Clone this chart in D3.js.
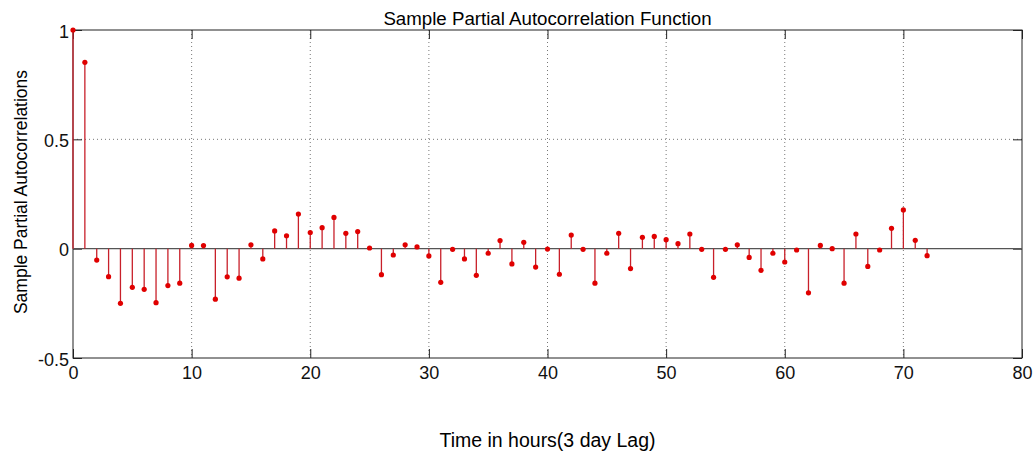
<!DOCTYPE html>
<html>
<head>
<meta charset="utf-8">
<script src="https://cdn.jsdelivr.net/npm/d3@7"></script>
<style>
  body { margin: 0; background: #fff; }
  svg { display: block; font-family: "Liberation Sans", Arial, sans-serif; }
</style>
</head>
<body>
<div id="chart"></div>
<script>
// lags 0..72
const lags = d3.range(0, 73);
const pacf = [
  1.0, 0.852, -0.052, -0.128, -0.250, -0.177, -0.186, -0.247, -0.169, -0.158,
  0.015, 0.014, -0.231, -0.129, -0.135, 0.018, -0.047, 0.081, 0.059, 0.158,
  0.074, 0.096, 0.143, 0.070, 0.078, 0.003, -0.119, -0.029, 0.018, 0.008,
  -0.033, -0.154, -0.003, -0.047, -0.122, -0.021, 0.037, -0.070, 0.029, -0.084,
  -0.002, -0.117, 0.062, -0.003, -0.158, -0.021, 0.070, -0.091, 0.052, 0.056,
  0.041, 0.023, 0.067, -0.003, -0.131, -0.003, 0.018, -0.040, -0.099, -0.021,
  -0.061, -0.006, -0.202, 0.015, 0.000, -0.158, 0.067, -0.081, -0.006, 0.093,
  0.177, 0.038, -0.032
];
const xTicks = [0, 10, 20, 30, 40, 50, 60, 70, 80];
const yTicks = [-0.5, 0, 0.5, 1];
const yTickLabels = ["-0.5", "0", "0.5", "1"];

const width = 1035, height = 454;
const margin = { top: 30, right: 13, bottom: 96, left: 73 };

const svg = d3.select("#chart")
  .append("svg")
  .attr("width", width)
  .attr("height", height);

const x = d3.scaleLinear().domain([0, 80]).range([margin.left, width - margin.right]);
const y = d3.scaleLinear().domain([-0.5, 1]).range([height - margin.bottom, margin.top]);

// grid
svg.append("g")
  .selectAll("line")
  .data(xTicks.slice(1, -1))
  .join("line")
  .attr("x1", d => x(d)).attr("x2", d => x(d))
  .attr("y1", y(1)).attr("y2", y(-0.5))
  .attr("stroke", "#777")
  .attr("stroke-width", 1)
  .attr("stroke-dasharray", "1,3");

svg.append("g")
  .selectAll("line")
  .data([0.5])
  .join("line")
  .attr("x1", x(0)).attr("x2", x(80))
  .attr("y1", d => y(d)).attr("y2", d => y(d))
  .attr("stroke", "#777")
  .attr("stroke-width", 1)
  .attr("stroke-dasharray", "1,3");

// axes (ticks inside, MATLAB style)
const tickLen = 9;
svg.append("g")
  .attr("transform", `translate(0,${y(-0.5)})`)
  .call(d3.axisBottom(x).tickValues(xTicks).tickSize(-tickLen).tickPadding(8).tickFormat(d3.format("d")))
  .call(g => g.select(".domain").remove());

svg.append("g")
  .attr("transform", `translate(0,${y(1)})`)
  .call(d3.axisTop(x).tickValues(xTicks).tickSize(-tickLen).tickFormat(""))
  .call(g => g.select(".domain").remove());

svg.append("g")
  .attr("transform", `translate(${x(0)},0)`)
  .call(d3.axisLeft(y).tickValues(yTicks).tickSize(-tickLen).tickPadding(4)
    .tickFormat((d, i) => yTickLabels[i]))
  .call(g => g.select(".domain").remove())
  .call(g => g.selectAll(".tick text").attr("dy", "0.4em"));

svg.append("g")
  .attr("transform", `translate(${x(80)},0)`)
  .call(d3.axisRight(y).tickValues(yTicks).tickSize(-tickLen).tickFormat(""))
  .call(g => g.select(".domain").remove());

svg.selectAll(".tick line").attr("stroke", "#222");
svg.selectAll(".tick text")
  .attr("font-size", 18)
  .attr("font-family", "Liberation Sans, Arial, sans-serif")
  .attr("fill", "#111");

// box
svg.append("rect")
  .attr("x", x(0)).attr("y", y(1))
  .attr("width", x(80) - x(0)).attr("height", y(-0.5) - y(1))
  .attr("fill", "none")
  .attr("stroke", "#222")
  .attr("stroke-width", 1);

// baseline
svg.append("line")
  .attr("x1", x(0)).attr("x2", x(80))
  .attr("y1", y(0)).attr("y2", y(0))
  .attr("stroke", "#555")
  .attr("stroke-width", 1.2);

// stems
const data = lags.map((l, i) => ({ lag: l, v: pacf[i] }));
svg.append("g")
  .selectAll("line")
  .data(data)
  .join("line")
  .attr("x1", d => x(d.lag)).attr("x2", d => x(d.lag))
  .attr("y1", y(0)).attr("y2", d => y(d.v))
  .attr("stroke", "#c8202a")
  .attr("stroke-width", 1.3);

svg.append("g")
  .selectAll("circle")
  .data(data)
  .join("circle")
  .attr("cx", d => x(d.lag))
  .attr("cy", d => y(d.v))
  .attr("r", 2.6)
  .attr("fill", "#e00000");

// labels
svg.append("text")
  .attr("x", (x(0) + x(80)) / 2)
  .attr("y", 25)
  .attr("text-anchor", "middle")
  .attr("font-size", 18.7)
  .text("Sample Partial Autocorrelation Function");

svg.append("text")
  .attr("x", (x(0) + x(80)) / 2)
  .attr("y", 447)
  .attr("text-anchor", "middle")
  .attr("font-size", 19.5)
  .text("Time in hours(3 day Lag)");

svg.append("text")
  .attr("transform", `translate(27,${(y(1) + y(-0.5)) / 2 - 2}) rotate(-90)`)
  .attr("text-anchor", "middle")
  .attr("font-size", 17.5)
  .text("Sample Partial Autocorrelations");
</script>
</body>
</html>
